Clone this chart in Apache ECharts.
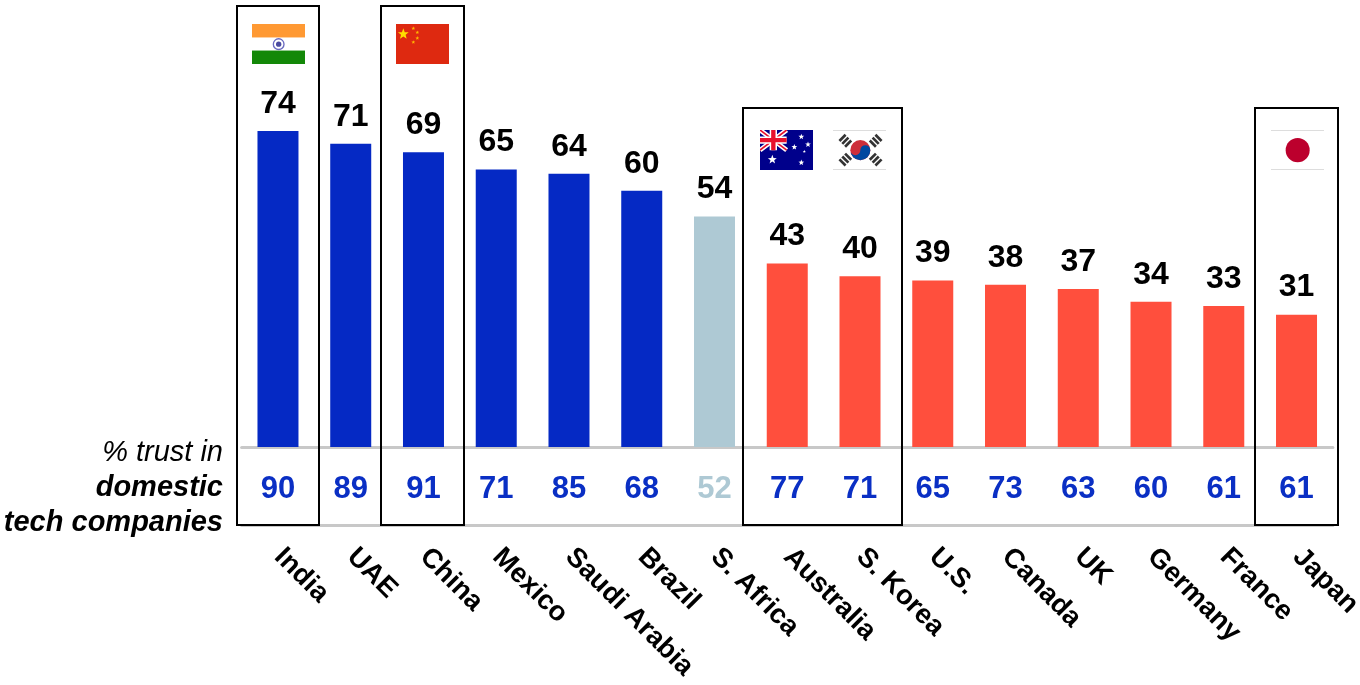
<!DOCTYPE html>
<html><head><meta charset="utf-8">
<script src="https://cdn.jsdelivr.net/npm/echarts@6/dist/echarts.min.js"></script>
<style>html,body{margin:0;padding:0;background:#fff}#c{width:1360px;height:685px}</style>
</head><body><div id="c"></div>
<script>
const countries=["India","UAE","China","Mexico","Saudi Arabia","Brazil","S. Africa","Australia","S. Korea","U.S.","Canada","UK","Germany","France","Japan"];
const trustForeign=[74,71,69,65,64,60,54,43,40,39,38,37,34,33,31];
const trustDomestic=[90,89,91,71,85,68,52,77,71,65,73,63,60,61,61];
const BLUE="#0529c4",PALE="#aec9d4",RED="#ff4f3d";
const colorOf=v=>v>54?BLUE:(v===54?PALE:RED);
const FONT='"Liberation Sans",Arial,sans-serif';
const svg=s=>'data:image/svg+xml;charset=utf-8,'+encodeURIComponent('<svg xmlns="http://www.w3.org/2000/svg" width="159" height="119" viewBox="0 0 159 119">'+s+'</svg>');
const india=svg('<rect width="159" height="119" fill="#fff"/><rect width="159" height="40" fill="#ff9933"/><rect y="79" width="159" height="40" fill="#138808"/><circle cx="80" cy="60" r="16" fill="none" stroke="#6a6ac0" stroke-width="4"/><circle cx="80" cy="60" r="8" fill="#4a4aa0"/>');
const star=(x,y,r,f)=>{let p=[];for(let i=0;i<10;i++){const a=-Math.PI/2+i*Math.PI/5,q=i%2?r*.42:r;p.push((x+q*Math.cos(a)).toFixed(1)+','+(y+q*Math.sin(a)).toFixed(1));}return '<polygon points="'+p.join(' ')+'" fill="'+f+'"/>';};
const china=svg('<rect width="159" height="119" fill="#de2910"/>'+star(22,30,17,'#ffde00')+star(52,13,6,'#ffb800')+star(64,25,6,'#ffb800')+star(64,42,6,'#ffb800')+star(52,54,6,'#ffb800'));
const australia=svg('<rect width="159" height="119" fill="#00008b"/><path d="M0 0L80 60M80 0L0 60" stroke="#fff" stroke-width="14"/><path d="M0 0L80 60M80 0L0 60" stroke="#e8112d" stroke-width="5"/><path d="M40 0V60M0 30H80" stroke="#fff" stroke-width="22"/><path d="M40 0V60M0 30H80" stroke="#e8112d" stroke-width="13"/>'+star(37,88,14,'#fff')+star(124,20,9,'#fff')+star(124,97,9,'#fff')+star(103,51,9,'#fff')+star(144,43,9,'#fff')+star(133,64,5,'#fff'));
const tri=(x,y,deg)=>'<g transform="translate('+x+' '+y+') rotate('+deg+')" fill="#333"><rect x="-13" y="-16" width="26" height="8"/><rect x="-13" y="-4" width="26" height="8"/><rect x="-13" y="8" width="26" height="8"/></g>';
const korea=svg('<rect width="159" height="119" fill="#fff"/><rect width="159" height="2" fill="#ccc"/><rect y="117" width="159" height="2" fill="#ccc"/><circle cx="82" cy="60" r="30" fill="#cd2e3a"/><path d="M52 60a15 15 0 0 0 30 0a15 15 0 0 1 30 0a30 30 0 0 1-60 0z" fill="#0047a0"/>'+tri(37,32,-45)+tri(128,32,45)+tri(37,88,45)+tri(128,88,-45));
const japan=svg('<rect width="159" height="119" fill="#fff"/><rect width="159" height="2" fill="#ccc"/><rect y="117" width="159" height="2" fill="#ccc"/><circle cx="80" cy="60" r="36" fill="#bc002d"/>');
const flag=(img,x,y)=>({type:'image',left:x,top:y,style:{image:img,width:53,height:40},z:5});
const box=(x,y,w,h)=>({type:'rect',shape:{x,y,width:w,height:h},style:{fill:'none',stroke:'#000',lineWidth:2},z:6});
const axisLine={show:true,lineStyle:{color:'#c8c8c8',width:3}};
const chart=echarts.init(document.getElementById('c'),null,{renderer:'canvas'});
chart.setOption({
 animation:false,backgroundColor:'#fff',
 grid:[{left:241.6,width:1091.3,top:20,height:427,outerBoundsMode:'none'},{left:241.6,width:1091.3,top:447,height:78,outerBoundsMode:'none'}],
 xAxis:[
  {gridIndex:0,type:'category',data:countries,axisTick:{show:false},axisLabel:{show:false},axisLine},
  {gridIndex:1,type:'category',data:countries,axisTick:{show:false},axisLine,
   axisLabel:{interval:0,rotate:-45,margin:27,padding:[0,0,0,1],fontFamily:FONT,fontWeight:'bold',fontSize:27.5,color:'#000'}}
 ],
 yAxis:[
  {gridIndex:0,type:'value',min:0,max:100,show:false},
  {gridIndex:1,type:'value',min:0,max:1,show:false}
 ],
 series:[
  {type:'bar',xAxisIndex:0,yAxisIndex:0,barWidth:41,
   data:trustForeign.map(v=>({value:v,itemStyle:{color:colorOf(v)}})),
   label:{show:true,position:'top',distance:11,fontFamily:FONT,fontWeight:'bold',fontSize:32,color:'#000'}},
  {type:'scatter',xAxisIndex:1,yAxisIndex:1,symbolSize:0,silent:true,itemStyle:{opacity:1},
   data:trustDomestic.map((v,i)=>({value:[countries[i],0.46],raw:v,
     label:{color:trustForeign[i]===54?PALE:'#0a2fc4'}})),
   label:{show:true,position:'inside',opacity:1,formatter:p=>p.data.raw,fontFamily:FONT,fontWeight:'bold',fontSize:31}}
 ],
 graphic:[
  box(237,6,82,519),box(381,6,83,519),box(743,108,159,417),box(1255,108,83,417),
  flag(india,252,24),flag(china,396,24),flag(australia,760,130),flag(korea,833,130),flag(japan,1271,130),
  {type:'text',z:7,style:{x:223,y:453,text:'% trust in',textAlign:'right',textVerticalAlign:'middle',font:'italic 29px '+FONT,fill:'#000'}},
  {type:'text',z:7,style:{x:223,y:488,text:'domestic',textAlign:'right',textVerticalAlign:'middle',font:'italic bold 29px '+FONT,fill:'#000'}},
  {type:'text',z:7,style:{x:223,y:523,text:'tech companies',textAlign:'right',textVerticalAlign:'middle',font:'italic bold 29px '+FONT,fill:'#000'}}
 ]
});
</script></body></html>
